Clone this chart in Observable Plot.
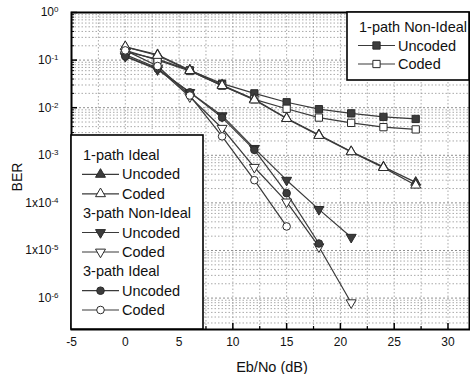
<!DOCTYPE html>
<html>
<head>
<meta charset="utf-8">
<script src="https://cdn.jsdelivr.net/npm/d3@7"></script>
<script src="https://cdn.jsdelivr.net/npm/@observablehq/plot@0.6"></script>
<style>
  html, body { margin: 0; padding: 0; background: #fff; }
  #chart { width: 470px; height: 374px; }
</style>
</head>
<body>
<div id="chart"></div>
<script>
// ---- data ----
const ebno = [0, 3, 6, 9, 12, 15, 18, 21, 24, 27];

const onePathNonIdealUncoded = [0.15, 0.105, 0.061, 0.032, 0.020, 0.013, 0.0093, 0.0076, 0.0064, 0.0058];
const onePathNonIdealCoded   = [0.16, 0.10, 0.059, 0.029, 0.0150, 0.0095, 0.0062, 0.0048, 0.0039, 0.0035];
const onePathIdealUncoded    = [0.19, 0.13, 0.062, 0.030, 0.0150, 0.0060, 0.0027, 0.0012, 0.00057, 0.00027];
const onePathIdealCoded      = [0.19, 0.125, 0.060, 0.029, 0.0145, 0.0059, 0.0026, 0.00118, 0.00055, 0.000235];

const threePathNonIdealUncoded = [0.12, 0.063, 0.021, 0.0068, 0.0014, 0.00030, 0.000073, 0.000019];
const threePathNonIdealCoded   = [0.13, 0.068, 0.017, 0.0037, 0.00056, 0.000105, 0.000012, 0.0000008];
const threePathIdealUncoded    = [0.12, 0.066, 0.021, 0.0062, 0.0013, 0.00016, 0.000014];
const threePathIdealCoded      = [0.16, 0.075, 0.018, 0.0025, 0.00030, 0.000032];

const xTickValues = [-5, 0, 5, 10, 15, 20, 25, 30];
const xMinorTicks = [-2.5, 2.5, 7.5, 12.5, 17.5, 22.5, 27.5];
const yTickValues = [1, 1e-1, 1e-2, 1e-3, 1e-4, 1e-5, 1e-6];
const yTickLabels = ["10|0", "10|-1", "10|-2", "10|-3", "1x10|-4", "1x10|-5", "10|-6"];

const xLabel = "Eb/No (dB)";
const yLabel = "BER";

// ---- helpers ----
const triDown = {
  draw(ctx, size) {
    const y = -Math.sqrt(size / (Math.sqrt(3) * 3));
    ctx.moveTo(0, -y * 2);
    ctx.lineTo(-Math.sqrt(3) * y, y);
    ctx.lineTo(Math.sqrt(3) * y, y);
    ctx.closePath();
  }
};

const rows = (vals) => vals.map((v, i) => ({x: ebno[i], y: v}));

const series = [
  {name: "1pNIU", data: rows(onePathNonIdealUncoded), symbol: "square", filled: true, r: 4.1},
  {name: "1pNIC", data: rows(onePathNonIdealCoded), symbol: "square", filled: false, r: 4.1},
  {name: "1pIU", data: rows(onePathIdealUncoded), symbol: "triangle", filled: true, r: 3.7},
  {name: "1pIC", data: rows(onePathIdealCoded), symbol: "triangle", filled: false, r: 3.7},
  {name: "3pNIU", data: rows(threePathNonIdealUncoded), symbol: triDown, filled: true, r: 3.7},
  {name: "3pNIC", data: rows(threePathNonIdealCoded), symbol: triDown, filled: false, r: 3.7},
  {name: "3pIU", data: rows(threePathIdealUncoded), symbol: "circle", filled: true, r: 3.8},
  {name: "3pIC", data: rows(threePathIdealCoded), symbol: "circle", filled: false, r: 3.8}
];

const yMin = Math.pow(10, -6.66);
const minorY = [];
for (let d = -7; d <= -1; d++) for (let k = 2; k <= 9; k++) {
  const v = k * Math.pow(10, d);
  if (v >= yMin && v <= 1) minorY.push(v);
}
const gridX = [...xTickValues, ...xMinorTicks].filter(v => v > -5);

const W = 470, H = 374, mL = 71, mR = 1, mT = 12, mB = 45;
const innerW = W - mL - mR, innerH = H - mT - mB;
const lineColor = "#3a3a3a";
const gridColor = "#8f8f8f";
const FONT = "'Liberation Sans', Arial, sans-serif";

const marks = [
  Plot.ruleY(minorY, {y: d => d, stroke: gridColor, strokeWidth: 0.9, strokeDasharray: "1.5,2", strokeOpacity: 0.85}),
  Plot.ruleY(yTickValues.slice(1), {y: d => d, stroke: gridColor, strokeWidth: 1, strokeDasharray: "2,2"}),
  Plot.ruleX(gridX, {x: d => d, stroke: gridColor, strokeWidth: 0.9, strokeDasharray: "1.5,2", strokeOpacity: 0.85}),
  Plot.tickX(xTickValues, {x: d => d, insetTop: innerH - 6, stroke: "#000", strokeWidth: 1.5}),
  Plot.tickX(xMinorTicks, {x: d => d, insetTop: innerH - 3, stroke: "#000", strokeWidth: 1.2}),
  Plot.tickY(yTickValues, {y: d => d, insetRight: innerW - 6, stroke: "#000", strokeWidth: 1.5}),
  Plot.tickY(minorY, {y: d => d, insetRight: innerW - 3, stroke: "#000", strokeWidth: 1}),
  Plot.axisX({ticks: xTickValues, tickSize: 0, tickPadding: 8, tickFormat: d => String(d), fontSize: 12, label: null}),
  Plot.axisY({ticks: yTickValues, tickSize: 0, tickPadding: 13, tickFormat: (d) => yTickLabels[yTickValues.indexOf(d)], fontSize: 12, label: null})
];
for (const s of series) {
  marks.push(Plot.line(s.data, {x: "x", y: "y", stroke: lineColor, strokeWidth: 1.2}));
}
for (const s of series) {
  marks.push(Plot.dot(s.data, {
    x: "x", y: "y", symbol: s.symbol, r: s.r,
    fill: s.filled ? "#3c3c3c" : "#fff",
    stroke: "#2a2a2a", strokeWidth: 1
  }));
}
marks.push(Plot.frame({stroke: "#000", strokeWidth: 2}));

const chart = Plot.plot({
  width: W, height: H,
  marginLeft: mL, marginRight: mR, marginTop: mT, marginBottom: mB,
  style: {fontFamily: FONT, fontSize: "12px", background: "#fff", color: "#111"},
  x: {domain: [-5, 32], label: null},
  y: {type: "log", domain: [yMin, 1], label: null},
  marks
});
document.getElementById("chart").appendChild(chart);

const NS = "http://www.w3.org/2000/svg";
// superscripts on y tick labels
chart.querySelectorAll('g[aria-label="y-axis tick label"] text').forEach(t => {
  const s = t.textContent;
  const parts = s.split("|");
  if (parts.length < 2) return;
  t.textContent = "";
  const a = document.createElementNS(NS, "tspan");
  a.textContent = parts[0];
  const b = document.createElementNS(NS, "tspan");
  b.textContent = parts[1];
  b.setAttribute("dy", "-0.5em");
  b.setAttribute("font-size", "8");
  t.appendChild(a); t.appendChild(b);
});

// axis titles
const svg = d3.select(chart);
svg.append("text")
  .attr("transform", "translate(17,177) rotate(-90)")
  .attr("text-anchor", "middle").attr("dy", "0.35em")
  .attr("font-size", 14).attr("font-family", FONT)
  .text(yLabel);
svg.append("text")
  .attr("x", 272).attr("y", 367)
  .attr("text-anchor", "middle").attr("dy", "0.35em")
  .attr("font-size", 14.5).attr("font-family", FONT)
  .text(xLabel);

// legends
function drawLegend(box, items) {
  const g = svg.append("g").attr("font-family", FONT).attr("font-size", 14.5).attr("text-anchor", "start");
  g.append("rect").attr("x", box.x).attr("y", box.y).attr("width", box.w).attr("height", box.h)
    .attr("fill", "#fff").attr("stroke", "#000").attr("stroke-width", 1.6);
  for (const it of items) {
    if (it.heading) {
      g.append("text").attr("x", box.x + box.tx0).attr("y", it.y).attr("dy", "0.35em")
        .attr("text-anchor", "start").text(it.heading);
    } else {
      const s = series.find(q => q.name === it.key);
      g.append("line").attr("x1", box.x + box.lx0).attr("x2", box.x + box.lx0 + 37)
        .attr("y1", it.y).attr("y2", it.y).attr("stroke", lineColor).attr("stroke-width", 1.2);
      const sym = typeof s.symbol === "string"
        ? {square: d3.symbolSquare, triangle: d3.symbolTriangle, circle: d3.symbolCircle}[s.symbol]
        : s.symbol;
      g.append("path").attr("d", d3.symbol(sym, s.r * s.r * Math.PI)())
        .attr("transform", `translate(${box.x + box.lx0 + 18.5},${it.y})`)
        .attr("fill", s.filled ? "#3c3c3c" : "#fff").attr("stroke", "#2a2a2a");
      g.append("text").attr("x", box.x + box.lx0 + 40).attr("y", it.y).attr("dy", "0.35em")
        .attr("text-anchor", "start").text(it.label);
    }
  }
}
drawLegend({x: 347, y: 12, w: 122, h: 68, tx0: 12, lx0: 11}, [
  {heading: "1-path Non-Ideal", y: 27},
  {key: "1pNIU", label: "Uncoded", y: 45.5},
  {key: "1pNIC", label: "Coded", y: 64}
]);
drawLegend({x: 71, y: 135, w: 132, h: 194, tx0: 12, lx0: 11}, [
  {heading: "1-path Ideal", y: 155},
  {key: "1pIU", label: "Uncoded", y: 174.4},
  {key: "1pIC", label: "Coded", y: 193.8},
  {heading: "3-path Non-Ideal", y: 213.1},
  {key: "3pNIU", label: "Uncoded", y: 232.5},
  {key: "3pNIC", label: "Coded", y: 252},
  {heading: "3-path Ideal", y: 271.3},
  {key: "3pIU", label: "Uncoded", y: 290.7},
  {key: "3pIC", label: "Coded", y: 310}
]);
</script>
</body>
</html>
